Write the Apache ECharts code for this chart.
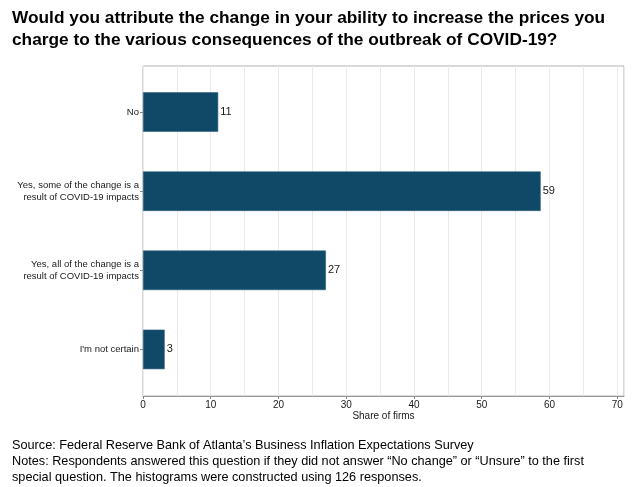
<!DOCTYPE html>
<html>
<head>
<meta charset="utf-8">
<script src="https://cdn.jsdelivr.net/npm/echarts@6/dist/echarts.min.js"></script>
<style>
  html, body { margin: 0; padding: 0; background: #fff; }
  #chart { width: 637px; height: 487px; }
</style>
</head>
<body>
<div id="chart"></div>
<script>
var categories = [
  'No',
  'Yes, some of the change is a\nresult of COVID-19 impacts',
  'Yes, all of the change is a\nresult of COVID-19 impacts',
  "I'm not certain"
];
var shares = [11.1, 58.7, 27.0, 3.2];
var xTicks = { min: 0, max: 71, interval: 10 };

var font = '"Liberation Sans", Arial, sans-serif';
var chart = echarts.init(document.getElementById('chart'));
chart.setOption({
  animation: false,
  textStyle: { fontFamily: font },
  title: {
    text: 'Would you attribute the change in your ability to increase the prices you\ncharge to the various consequences of the outbreak of COVID-19?',
    left: 7,
    top: 2,
    textStyle: { fontSize: 17.3, fontWeight: 'bold', color: '#000', lineHeight: 22, fontFamily: font }
  },
  graphic: [{
    type: 'text',
    left: 12,
    top: 437,
    style: {
      text: 'Source: Federal Reserve Bank of Atlanta\u2019s Business Inflation Expectations Survey\nNotes: Respondents answered this question if they did not answer \u201cNo change\u201d or \u201cUnsure\u201d to the first\nspecial question. The histograms were constructed using 126 responses.',
      font: '12.7px ' + font,
      lineHeight: 16.3,
      fill: '#000'
    }
  }],
  grid: [{
    // frame
    left: 143, right: 13, top: 66, bottom: 91,
    show: true, borderColor: '#b3b3b3', borderWidth: 1
  }, {
    // bars
    left: 143, right: 13, top: 72.5, bottom: 98
  }],
  xAxis: [{
    gridIndex: 0,
    type: 'value',
    min: xTicks.min, max: xTicks.max, interval: xTicks.interval,
    name: 'Share of firms',
    nameLocation: 'middle',
    nameGap: 15,
    nameMoveOverlap: false,
    nameTextStyle: { fontSize: 10, color: '#1a1a1a' },
    axisLine: { show: true, lineStyle: { color: '#999' } },
    axisTick: { show: true, length: 3, lineStyle: { color: '#888' } },
    axisLabel: { fontSize: 10, color: '#1a1a1a', margin: 4, showMaxLabel: false },
    splitLine: { show: true, lineStyle: { color: '#ebebeb' } },
    minorTick: { show: false, splitNumber: 2 },
    minorSplitLine: { show: true, lineStyle: { color: '#ebebeb' } }
  }, {
    gridIndex: 1,
    type: 'value',
    min: xTicks.min, max: xTicks.max,
    show: false
  }],
  yAxis: [{
    gridIndex: 0,
    type: 'value',
    show: false
  }, {
    gridIndex: 1,
    type: 'category',
    inverse: true,
    data: categories,
    axisLine: { show: false },
    axisTick: { show: true, length: 3, alignWithLabel: true, lineStyle: { color: '#888' } },
    axisLabel: { fontSize: 9.5, color: '#1a1a1a', lineHeight: 11.5, margin: 4 },
    splitLine: { show: false }
  }],
  series: [{
    type: 'bar',
    xAxisIndex: 1,
    yAxisIndex: 1,
    barWidth: '50%',
    data: shares,
    itemStyle: { color: '#104868', borderColor: '#2f6383', borderWidth: 0.6 },
    label: {
      show: true,
      position: 'right',
      distance: 2,
      fontSize: 11,
      color: '#1a1a1a',
      formatter: function (p) { return Math.round(p.value); }
    }
  }]
});
</script>
</body>
</html>
